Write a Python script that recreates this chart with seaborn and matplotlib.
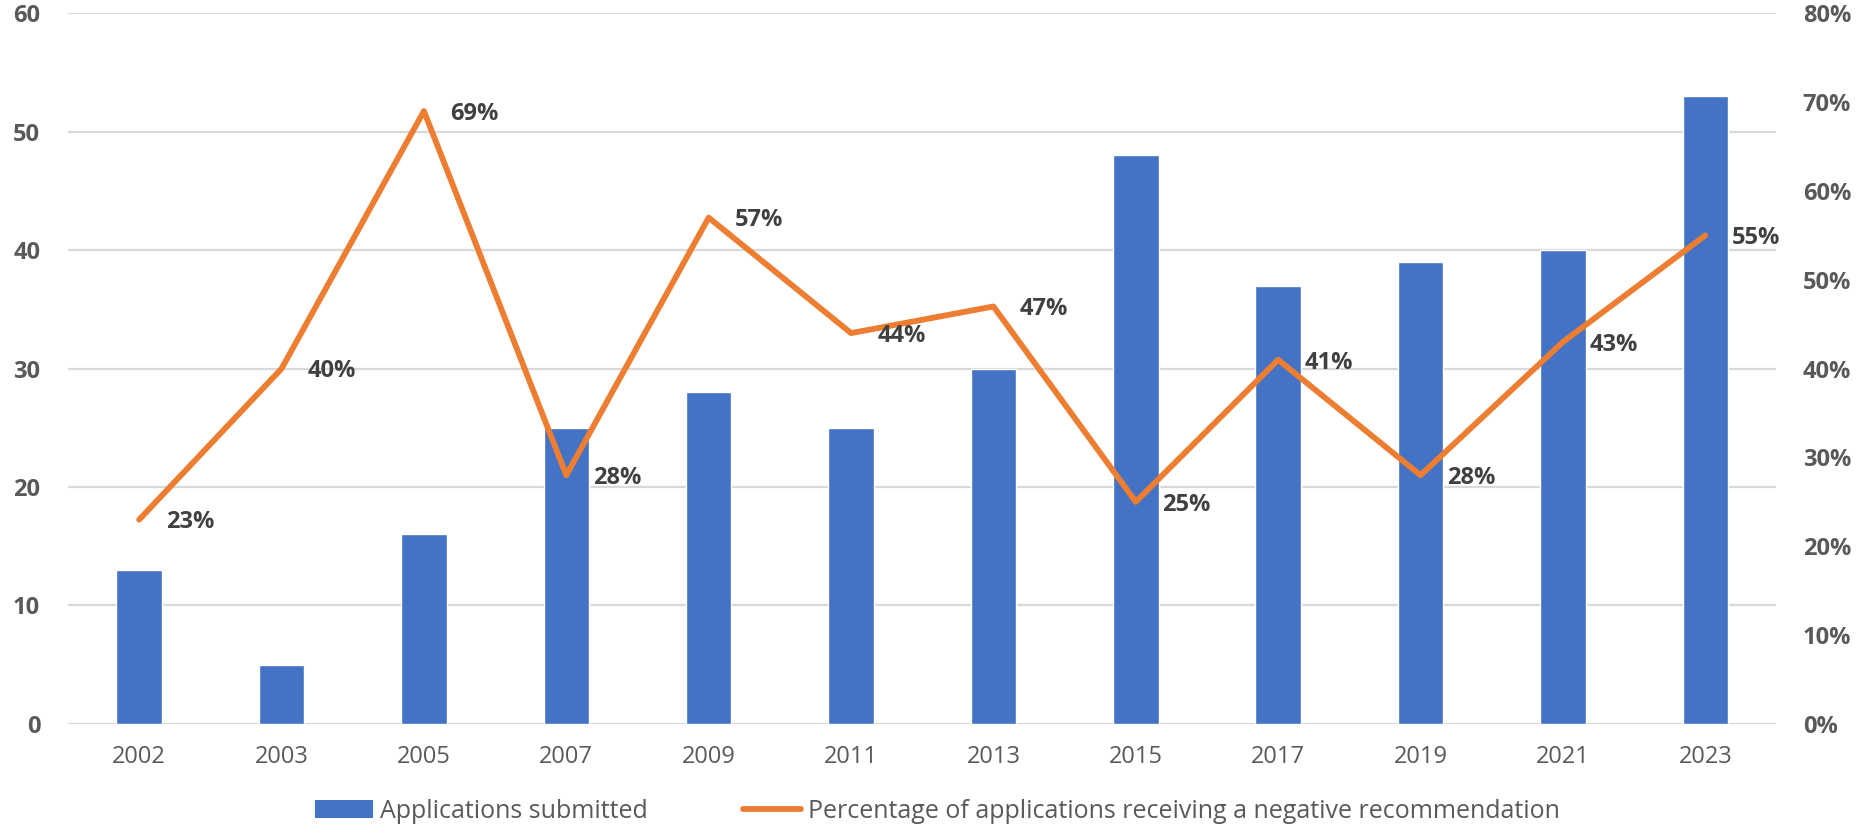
import pandas as pd
import seaborn as sns
import matplotlib.pyplot as plt
from matplotlib.patches import Patch
from matplotlib.lines import Line2D
from matplotlib.ticker import MultipleLocator, PercentFormatter

years = ["2002", "2003", "2005", "2007", "2009", "2011",
         "2013", "2015", "2017", "2019", "2021", "2023"]
applications = [13, 5, 16, 25, 28, 25, 30, 48, 37, 39, 40, 53]
negative_pct = [23, 40, 69, 28, 57, 44, 47, 25, 41, 28, 43, 55]

bar_label = "Applications submitted"
line_label = "Percentage of applications receiving a negative recommendation"

blue = "#4472C4"
orange = "#ED7D31"
tick_grey = "#595959"
label_grey = "#404040"

df = pd.DataFrame({"Year": years, "Applications": applications, "Negative": negative_pct})

sns.set_style("white")
plt.rcParams["font.family"] = ["Open Sans", "DejaVu Sans"]

fig = plt.figure(figsize=(18.68, 8.34), dpi=100)
ax = fig.add_axes([0.0364, 0.132, 0.951 - 0.0364, 0.984 - 0.132])

sns.barplot(data=df, x="Year", y="Applications", color=blue, width=0.32,
            saturation=1, ax=ax, zorder=2)
ax.set_xlim(-0.5, len(years) - 0.5)
ax.set_ylim(0, 60)
ax.yaxis.set_major_locator(MultipleLocator(10))
ax.grid(axis="y", color="#D9D9D9", linewidth=1.6, zorder=0)
ax.set_axisbelow(True)
ax.set_xlabel("")
ax.set_ylabel("")
for s in ax.spines.values():
    s.set_visible(False)
ax.tick_params(axis="y", length=0, pad=20, labelsize=17, labelcolor=tick_grey)
ax.tick_params(axis="x", length=0, pad=15, labelsize=17, labelcolor=tick_grey)
for t in ax.get_yticklabels():
    t.set_fontweight("bold")

ax2 = ax.twinx()
sns.lineplot(data=df, x="Year", y="Negative", color=orange, linewidth=4.2,
             sort=False, ax=ax2)
ax2.set_ylim(0, 80)
ax2.yaxis.set_major_locator(MultipleLocator(10))
ax2.yaxis.set_major_formatter(PercentFormatter(decimals=0))
ax2.set_ylabel("")
ax2.grid(False)
for s in ax2.spines.values():
    s.set_visible(False)
ax2.tick_params(axis="y", length=0, pad=19, labelsize=17, labelcolor=tick_grey)
for t in ax2.get_yticklabels():
    t.set_fontweight("bold")

for i, v in enumerate(negative_pct):
    ax2.annotate(f"{v}%", (i, v), xytext=(19, -2), textcoords="offset points",
                 ha="left", va="center", fontsize=17, color=label_grey,
                 fontweight="bold")

handles = [Patch(facecolor=blue, edgecolor="none"),
           Line2D([0], [0], color=orange, linewidth=4.2)]
fig.legend(handles, [bar_label, line_label], loc="center",
           bbox_to_anchor=(0.502, 0.027), ncol=2, frameon=False,
           fontsize=18, labelcolor=tick_grey, handlelength=2.3,
           handletextpad=0.3, columnspacing=3.8)

fig.savefig("out.png", dpi=100)
